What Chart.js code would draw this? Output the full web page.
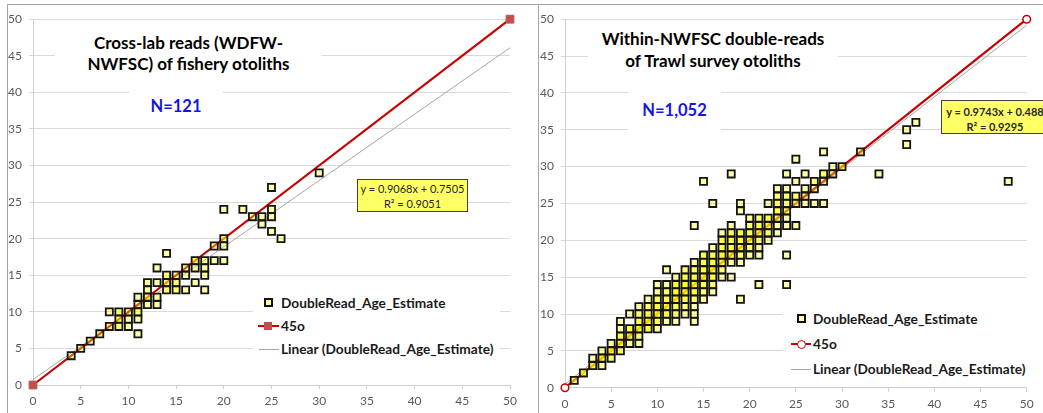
<!DOCTYPE html>
<html><head><meta charset="utf-8">
<script src="https://cdn.jsdelivr.net/npm/chart.js@4/dist/chart.umd.min.js"></script>
<style>
html,body{margin:0;padding:0;background:#fff;}
body{width:1043px;height:413px;overflow:hidden;position:relative;font-family:Lato,"Open Sans",sans-serif;}
canvas{position:absolute;}
.ln{position:absolute;background:#a6a6a6;}
.wb{position:absolute;background:#fff;}
.ttl{font-weight:bold;font-size:17px;color:#000;text-align:center;white-space:nowrap;}
.nn{font-weight:bold;font-size:16.5px;color:#1414e6;text-align:center;white-space:nowrap;}
.eq{position:absolute;background:#ffff66;border:1px solid #404040;box-sizing:border-box;font-size:11px;line-height:15px;color:#262626;text-align:center;white-space:nowrap;overflow:hidden;}
.lt{position:absolute;font-weight:bold;font-size:13.7px;line-height:16px;color:#1a1a1a;white-space:nowrap;}
.mk{position:absolute;width:9px;height:9px;box-sizing:border-box;border:2px solid #111;background:#ffffa8;}
.rl{position:absolute;height:2px;background:#c80000;}
.gl{position:absolute;height:1px;background:#a6a6a6;}
</style>
</head><body>
<canvas id="cL" width="530" height="408" style="left:8px;top:5px"></canvas>
<canvas id="cR" width="504" height="408" style="left:539px;top:5px"></canvas>

<div class="ln" style="left:7px;top:4px;width:1036px;height:1px"></div>
<div class="ln" style="left:7px;top:4px;width:1px;height:409px"></div>
<div class="ln" style="left:538px;top:4px;width:1px;height:409px"></div>

<!-- left annotations -->
<div class="wb ttl" style="left:55px;top:22px;width:267px;height:56px;box-sizing:border-box;padding-top:9.5px;line-height:21px">Cross-lab reads (WDFW-<br>NWFSC) of fishery otoliths</div>
<div class="wb nn" style="left:129px;top:84px;width:94px;height:44px;line-height:44px">N=121</div>
<div class="eq" style="left:357px;top:179px;width:111px;height:33px;padding-top:1px">y = 0.9068x + 0.7505<br>R² = 0.9051</div>
<div class="wb" style="left:253px;top:288px;width:247px;height:74px"></div>
<div class="mk" style="left:264px;top:298px"></div>
<div class="lt" style="left:281px;top:295px">DoubleRead_Age_Estimate</div>
<div class="rl" style="left:258px;top:325px;width:21px"></div>
<div style="position:absolute;left:264px;top:322px;width:8px;height:8px;background:#c0504d"></div>
<div class="lt" style="left:281px;top:318px">45o</div>
<div class="gl" style="left:259px;top:349px;width:20px"></div>
<div class="lt" style="left:281px;top:341px">Linear (DoubleRead_Age_Estimate)</div>

<!-- right annotations -->
<div class="wb ttl" style="left:588px;top:22px;width:250px;height:56px;box-sizing:border-box;padding-top:6px;line-height:22px">Within-NWFSC double-reads<br>of Trawl survey otoliths</div>
<div class="wb nn" style="left:628px;top:86px;width:93px;height:48px;line-height:48px">N=1,052</div>
<div class="eq" style="left:941px;top:100px;width:108px;height:34px;padding-top:3px;font-weight:bold">y = 0.9743x + 0.488<br>R² = 0.9295</div>
<div class="wb" style="left:783px;top:303px;width:260px;height:78px"></div>
<div class="mk" style="left:797px;top:314px"></div>
<div class="lt" style="left:813px;top:311px">DoubleRead_Age_Estimate</div>
<div class="rl" style="left:791px;top:343px;width:20px"></div>
<div style="position:absolute;left:797px;top:339.5px;width:9px;height:9px;box-sizing:border-box;border:1.5px solid #c80000;border-radius:50%;background:#fff"></div>
<div class="lt" style="left:813px;top:336px">45o</div>
<div class="gl" style="left:791px;top:369px;width:20px"></div>
<div class="lt" style="left:813px;top:361px">Linear (DoubleRead_Age_Estimate)</div>

<script>
// ---- data ----
const tickVals = [0, 5, 10, 15, 20, 25, 30, 35, 40, 45, 50];

// Left: cross-lab reads (distinct positions, with overlap counts)
const leftX = [4,5,6,7,8,8,9,9,9,10,10,10,11,11,11,11,11,12,12,12,12,13,13,13,13,14,14,14,14,15,15,15,16,16,16,17,17,17,18,18,18,18,19,19,20,20,20,20,22,23,24,24,25,25,25,25,26,30];
const leftY = [4,5,6,7,10,8,10,9,8,10,9,8,12,11,10,9,7,14,13,12,11,16,14,12,11,18,15,14,13,15,14,13,16,15,13,17,16,14,17,16,15,13,19,17,24,20,19,17,24,23,23,22,27,24,23,21,20,29];
const leftN = [1,1,1,1,1,1,2,2,2,1,1,1,1,1,2,1,1,1,1,2,1,1,1,1,1,1,2,2,2,1,2,2,1,1,1,2,1,1,1,1,1,1,1,1,1,2,1,1,1,1,1,1,1,1,1,1,1,1];

// Right: within-NWFSC double reads
const rightX = [1,2,3,3,4,4,4,5,5,5,
 6,6,6,6,6, 7,7,7,7, 8,8,8,8,8,8, 9,9,9,9,9,
 10,10,10,10,10,10,10, 11,11,11,11,11,11,11, 12,12,12,12,12,12,12, 13,13,13,13,13,13,13,
 14,14,14,14,14,14,14,14,14,14, 15,15,15,15,15,15,15,15, 16,16,16,16,16,16,16,16,
 17,17,17,17,17,17,17, 18,18,18,18,18,18,18,18, 19,19,19,19,19,19,19,19,
 20,20,20,20,20,20, 21,21,21,21,21,21,21, 22,22,22,22,22, 23,23,23,23,23,23,23,
 24,24,24,24,24,24,24,24,24, 25,25,25,25,25, 26,26,26,26, 27,27,27, 28,28,28,28,
 29,29, 30, 32, 34, 37,37, 38, 48];
const rightY = [1,2,4,3,5,4,3,6,5,4,
 9,8,7,6,5, 10,8,7,6, 11,10,9,8,7,6, 12,11,10,9,8,
 14,13,12,11,10,9,8, 16,14,13,12,11,10,9, 15,14,13,12,11,10,9, 16,15,14,13,12,11,10,
 22,17,16,15,14,13,12,11,10,9, 28,18,17,16,15,14,13,12, 25,19,18,17,16,15,14,13,
 21,20,19,18,17,16,15, 29,22,21,20,19,18,17,15, 25,24,21,20,19,18,17,12,
 23,22,21,20,19,18, 23,22,21,20,19,18,14, 25,23,22,21,20, 27,26,25,24,23,22,21,
 29,27,26,25,24,23,22,18,14, 31,28,26,25,22, 29,27,26,25, 28,27,25, 32,29,28,25,
 30,29, 30, 32, 29, 35,33, 36, 28];
const rightN = [2,4,1,3,1,3,1,1,4,2,
 1,1,3,3,2, 1,3,3,1, 1,2,3,4,2,1, 1,2,3,4,3,
 1,1,3,4,4,3,1, 1,1,2,3,4,3,1, 1,3,4,4,3,2,1, 2,3,4,4,3,2,1,
 1,1,2,3,4,3,2,1,1,1, 1,3,3,4,4,3,2,1, 1,1,3,4,4,3,2,1,
 1,3,3,4,3,2,1, 1,1,3,3,3,3,1,1, 1,1,3,3,3,2,1,1,
 1,2,3,3,2,1, 2,3,3,2,1,1,1, 1,3,3,2,1, 1,2,2,3,2,1,1,
 1,1,2,2,2,1,1,1,1, 1,1,2,2,1, 1,1,1,1, 2,1,1, 1,2,1,1,
 1,1, 2, 1, 1, 1,1, 1, 1];

// 45-degree reference line and Excel linear trendlines (endpoints)
const diagX = [0, 50], diagY = [0, 50];
const trendLX = [0, 50], trendLY = [0.7505, 46.09];
const trendRX = [0, 50], trendRY = [0.488, 49.20];

// ---- charts ----
const pts = (xs, ys) => xs.map((x, i) => ({x: x, y: ys[i]}));

function scatterDs(xs, ys, ns) {
  return {
    label: 'DoubleRead_Age_Estimate', data: pts(xs, ys), showLine: false, clip: false,
    pointStyle: 'rect', pointRadius: 5, pointBorderWidth: 1.8, pointBorderColor: '#141414',
    pointBackgroundColor: c => 'rgba(255,255,0,' + (1 - Math.pow(0.66, ns[c.dataIndex] || 1)).toFixed(3) + ')'
  };
}

function scales(yW, xH) {
  const tk = s => { s.ticks = tickVals.map(v => ({value: v})); };
  const font = {family: 'Lato', size: 12};
  return {
    x: {type: 'linear', min: 0, max: 50, afterBuildTicks: tk, afterFit: s => { s.height = xH; },
        grid: {drawOnChartArea: false, drawTicks: true, tickLength: 4, color: '#d0d0d0'},
        border: {color: '#d0d0d0'},
        ticks: {font: font, color: '#595959', padding: 5, maxRotation: 0, autoSkip: false}},
    y: {type: 'linear', min: 0, max: 50, afterBuildTicks: tk, afterFit: s => { s.width = yW; },
        grid: {color: '#d9d9d9', tickLength: 4, drawTicks: true},
        border: {color: '#d0d0d0'},
        ticks: {font: font, color: '#595959', padding: 7, autoSkip: false}}
  };
}

function makeChart(id, xs, ys, ns, diagStyle, tX, tY, pad, yW, xH) {
  new Chart(document.getElementById(id), {
    type: 'scatter',
    data: {datasets: [
      scatterDs(xs, ys, ns),
      Object.assign({label: '45o', data: pts(diagX, diagY), showLine: true, clip: false,
        borderColor: '#c80000', borderWidth: 2.2}, diagStyle),
      {label: 'Linear (DoubleRead_Age_Estimate)', data: pts(tX, tY), showLine: true,
        borderColor: '#a6a6a6', borderWidth: 1, pointRadius: 0, clip: false}
    ]},
    options: {
      responsive: false, animation: false, events: [], devicePixelRatio: 1,
      layout: {padding: pad},
      plugins: {legend: {display: false}, tooltip: {enabled: false}, title: {display: false}},
      scales: scales(yW, xH)
    }
  });
}

makeChart('cL', leftX, leftY, leftN,
  {pointStyle: 'rect', pointRadius: 5.5, pointBackgroundColor: '#c0504d', pointBorderColor: '#c0504d', pointBorderWidth: 1},
  trendLX, trendLY, {left: 0, top: 7.7, right: 28, bottom: 0}, 25, 28);

makeChart('cR', rightX, rightY, rightN,
  {pointStyle: 'circle', pointRadius: 3.8, pointBackgroundColor: '#ffffff', pointBorderColor: '#c80000', pointBorderWidth: 1.5},
  trendRX, trendRY, {left: 0, top: 10.7, right: 16.3, bottom: 0}, 26, 25.3);
</script>
</body></html>
